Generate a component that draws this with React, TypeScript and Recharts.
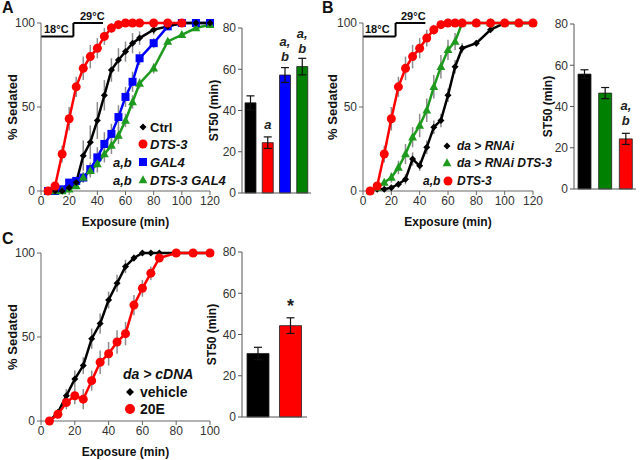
import React from "react";
import {
  Bar,
  BarChart,
  Cell,
  ErrorBar,
  LabelList,
  Line,
  LineChart,
  ReferenceLine,
  XAxis,
  YAxis,
} from "recharts";

const FONT = "'Liberation Sans', Arial, Helvetica, sans-serif";
const RED = "#ff0000";
const BLUE = "#0000ff";
const GREEN_LINE = "#1e9a1e";
const GREEN_BAR = "#008000";
const BLACK = "#000000";
const ERR_GREY = "#8c8c8c";

// ---- panel A: sedation curves ----
const timesA = [5, 10, 15, 20, 25, 30, 35, 40, 45, 50, 55, 60, 65, 70, 80, 90, 100, 110, 120];
const ctrlA = [0, 0, 0, 2, 5, 21, 29, 42, 57, 72, 78, 83, 88, 91, 96, 98, 100, 100, 100];
const ctrlErrA = [0, 0, 0, 1, 3, 9, 10, 11, 9, 7, 7, 6, 6, 4, 3, 2, 0, 0, 0];
const dts3A = [0, 3, 22, 43, 62, 73, 80, 85, 92, 97, 99, 100, 100, 100, 100, 100, 100];
const dts3ErrA = [0, 2, 5, 7, 6, 7, 7, 6, 5, 3, 1, 0, 0, 0, 0, 0, 0];
const gal4A = [0, 0, 1, 5, 6, 8, 13, 20, 28, 34, 44, 56, 65, 79, 88, 98, 100, 100, 100];
const gal4ErrA = [0, 0, 1, 2, 2, 3, 4, 6, 7, 6, 7, 6, 6, 4, 3, 1, 0, 0, 0];
const dtsGal4A = [0, 0, 0, 1, 3, 8, 12, 16, 22, 27, 33, 42, 53, 64, 73, 89, 93, 97, 99];
const dtsGal4ErrA = [0, 0, 0, 1, 2, 3, 4, 5, 5, 5, 5, 4, 4, 3, 3, 2, 2, 1, 0];

// ---- panel A: ST50 bars ----
const barNamesA = ["Ctrl", "DTS-3", "GAL4", "DTS-3 GAL4"];
const st50A = [43.7, 24.4, 57.2, 61.3];
const st50ErrA = [3.4, 2.8, 3.6, 4.0];
const notesA = ["", "a", "a,|b", "a,|b"];

// ---- panel B: sedation curves ----
const timesB = [5, 10, 15, 20, 25, 30, 35, 40, 45, 50, 55, 60, 65, 70, 80, 90, 100, 110, 120];
const rnaiB = [0, 1, 1, 2, 4, 7, 19, 15, 26, 38, 42, 57, 74, 85, 88, 96, 100, 100, 100];
const rnaiErrB = [0, 0, 0, 1, 2, 3, 4, 3, 4, 4, 4, 4, 4, 3, 2, 1, 0, 0, 0];
const rnaiDtsB = [0, 2, 5, 8, 14, 22, 32, 39, 48, 62, 74, 84, 89, 100, 100, 100, 100, 100, 100];
const rnaiDtsErrB = [0, 1, 2, 3, 4, 6, 6, 7, 7, 7, 7, 6, 5, 0, 0, 0, 0, 0, 0];
const dts3B = [0, 3, 22, 43, 62, 73, 80, 85, 91, 96, 99, 100, 100, 100, 100, 100, 100, 100, 100];
const dts3ErrB = [0, 2, 5, 7, 6, 7, 7, 6, 5, 3, 1, 0, 0, 0, 0, 0, 0, 0, 0];

// ---- panel B: ST50 bars ----
const barNamesB = ["da > RNAi", "da > RNAi DTS-3", "DTS-3"];
const st50B = [55.7, 46.5, 24.3];
const st50ErrB = [2.1, 2.7, 2.7];
const notesB = ["", "", "a,|b"];

// ---- panel C: sedation curves ----
const timesC = [5, 10, 15, 20, 25, 30, 35, 40, 45, 50, 55, 60, 65, 70, 80, 90, 100];
const vehicleC = [0, 5, 15, 25, 33, 49, 58, 72, 82, 92, 97, 100, 100, 100, 100, 100, 100];
const vehicleErrC = [0, 2, 4, 5, 5, 6, 6, 5, 5, 4, 2, 0, 0, 0, 0, 0, 0];
const e20C = [0, 4, 11, 15, 13, 24, 35, 40, 47, 52, 69, 79, 88, 97, 100, 100, 100];
const e20ErrC = [0, 2, 4, 5, 6, 6, 7, 7, 7, 7, 6, 5, 4, 2, 0, 0, 0];

// ---- panel C: ST50 bars ----
const barNamesC = ["vehicle", "20E"];
const st50C = [30.8, 44.3];
const st50ErrC = [3.0, 3.8];
const notesC = ["", "*"];

type Shape = "circle" | "square" | "triangle" | "diamond";

const drawShape = (shape: Shape, cx: number, cy: number, s: number, color: string, key?: any) => {
  if (shape === "circle") return <circle key={key} cx={cx} cy={cy} r={s} fill={color} />;
  if (shape === "square")
    return <rect key={key} x={cx - s} y={cy - s} width={s * 2} height={s * 2} fill={color} />;
  if (shape === "triangle")
    return (
      <polygon
        key={key}
        points={`${cx},${cy - s * 1.2} ${cx - s * 1.1},${cy + s * 0.8} ${cx + s * 1.1},${cy + s * 0.8}`}
        fill={color}
      />
    );
  return (
    <polygon
      key={key}
      points={`${cx},${cy - s} ${cx + s},${cy} ${cx},${cy + s} ${cx - s},${cy}`}
      fill={color}
    />
  );
};

const dotFor = (shape: Shape, color: string, size: number) => (props: any) => {
  const { cx, cy, index } = props;
  if (cx == null || cy == null) return <g key={index} />;
  return drawShape(shape, cx, cy, size, color, index);
};

const toRows = (times: number[], values: number[], errs: number[]) =>
  values.map((v, i) => ({ t: times[i], v, e: errs[i] }));

interface SeriesDef {
  name: string;
  times: number[];
  values: number[];
  errs: number[];
  color: string;
  shape: Shape;
  size: number;
}

const tickStyle = { fontSize: 12, fill: "#333", fontFamily: FONT };
const axisTitle = { fontSize: 12, fontWeight: 700, fill: "#111", fontFamily: FONT };

function CurveChart({
  series,
  maxX,
  width,
  height,
  top,
  right,
  yAxisWidth,
  xAxisHeight,
  showTemp,
}: {
  series: SeriesDef[];
  maxX: number;
  width: number;
  height: number;
  top: number;
  right: number;
  yAxisWidth: number;
  xAxisHeight: number;
  showTemp?: boolean;
}) {
  const xTicks = [];
  for (let v = 0; v <= maxX; v += 20) xTicks.push(v);
  return (
    <LineChart width={width} height={height} margin={{ top, right, left: 0, bottom: 0 }}>
      <XAxis
        dataKey="t"
        type="number"
        domain={[0, maxX]}
        ticks={xTicks}
        tick={tickStyle}
        tickSize={4}
        tickMargin={1}
        stroke="#666"
        height={xAxisHeight}
        allowDuplicatedCategory={false}
        label={{ value: "Exposure (min)", position: "insideBottom", offset: 4, style: axisTitle }}
      />
      <YAxis
        type="number"
        domain={[0, 100]}
        ticks={[0, 50, 100]}
        tick={tickStyle}
        tickSize={4}
        tickMargin={2}
        stroke="#666"
        width={yAxisWidth}
        label={{
          value: "% Sedated",
          angle: -90,
          position: "insideLeft",
          offset: 12,
          style: { ...axisTitle, fontSize: 13, textAnchor: "middle" },
        }}
      />
      {showTemp && (
        <>
          <ReferenceLine segment={[{ x: 0, y: 92 }, { x: 23, y: 92 }]} stroke="#000" strokeWidth={2} ifOverflow="visible" />
          <ReferenceLine segment={[{ x: 23, y: 92 }, { x: 23, y: 100 }]} stroke="#000" strokeWidth={2} ifOverflow="visible" />
          <ReferenceLine segment={[{ x: 23, y: 100 }, { x: 44, y: 100 }]} stroke="#000" strokeWidth={2} ifOverflow="visible" />
        </>
      )}
      {series.map((s) => (
        <Line
          key={s.name}
          data={toRows(s.times, s.values, s.errs)}
          dataKey="v"
          name={s.name}
          stroke={s.color}
          strokeWidth={2.5}
          dot={dotFor(s.shape, s.color, s.size)}
          activeDot={false}
          isAnimationActive={false}
        >
          <ErrorBar dataKey="e" width={0} stroke={ERR_GREY} strokeWidth={1.5} direction="y" />
        </Line>
      ))}
    </LineChart>
  );
}

const noteRenderer = (props: any) => {
  const { x, y, width, value } = props;
  if (!value) return null;
  const lines = String(value).split("|");
  const cx = Number(x) + Number(width) / 2;
  return (
    <g>
      {lines.map((ln, i) => (
        <text
          key={i}
          x={cx}
          y={Number(y) - 14 - (lines.length - 1 - i) * 15}
          textAnchor="middle"
          fontFamily={FONT}
          fontSize={ln === "*" ? 18 : 13}
          fontWeight={700}
          fontStyle={ln === "*" ? "normal" : "italic"}
          fill="#222"
        >
          {ln}
        </text>
      ))}
    </g>
  );
};

function St50Chart({
  names,
  values,
  errs,
  notes,
  colors,
  width,
  height,
  top,
  right,
  yAxisWidth,
  barSize,
  labelOffset,
}: {
  names: string[];
  values: number[];
  errs: number[];
  notes: string[];
  colors: string[];
  width: number;
  height: number;
  top: number;
  right: number;
  yAxisWidth: number;
  barSize: number;
  labelOffset: number;
}) {
  const data = names.map((n, i) => ({ name: n, st50: values[i], err: errs[i], note: notes[i] }));
  return (
    <BarChart width={width} height={height} data={data} margin={{ top, right, left: 0, bottom: 0 }}>
      <XAxis dataKey="name" tick={false} tickLine={false} stroke="#555" height={height - 165 - top + (189 - 189)} />
      <YAxis
        domain={[0, 80]}
        ticks={[0, 20, 40, 60, 80]}
        tick={tickStyle}
        tickSize={4}
        tickMargin={2}
        stroke="#555"
        width={yAxisWidth}
        label={{
          value: "ST50 (min)",
          angle: -90,
          position: "insideLeft",
          offset: labelOffset,
          style: { ...axisTitle, textAnchor: "middle" },
        }}
      />
      <Bar dataKey="st50" barSize={barSize} stroke="#222" strokeWidth={0.8} isAnimationActive={false}>
        {data.map((d, i) => (
          <Cell key={d.name} fill={colors[i]} />
        ))}
        <ErrorBar dataKey="err" width={4} stroke="#111" strokeWidth={1.2} direction="y" />
        <LabelList dataKey="note" content={noteRenderer} />
      </Bar>
    </BarChart>
  );
}

const Txt = ({
  x,
  y,
  size = 13,
  italic,
  children,
}: {
  x: number;
  y: number;
  size?: number;
  italic?: boolean;
  children: React.ReactNode;
}) => (
  <div
    style={{
      position: "absolute",
      left: x,
      top: y,
      transform: "translateY(-50%)",
      fontSize: size,
      lineHeight: 1,
      fontWeight: 700,
      fontStyle: italic ? "italic" : "normal",
      whiteSpace: "nowrap",
      color: "#111",
    }}
  >
    {children}
  </div>
);

const Mark = ({ x, y, shape, color, size }: { x: number; y: number; shape: Shape; color: string; size: number }) => (
  <svg style={{ position: "absolute", left: x - 8, top: y - 8 }} width={16} height={16}>
    {drawShape(shape, 8, 8, size, color)}
  </svg>
);

const Abs = ({ left, top, children }: { left: number; top: number; children: React.ReactNode }) => (
  <div style={{ position: "absolute", left, top }}>{children}</div>
);

export default function App() {
  const seriesA: SeriesDef[] = [
    { name: "GAL4", times: timesA, values: gal4A, errs: gal4ErrA, color: BLUE, shape: "square", size: 4 },
    { name: "DTS-3 GAL4", times: timesA, values: dtsGal4A, errs: dtsGal4ErrA, color: GREEN_LINE, shape: "triangle", size: 4 },
    { name: "Ctrl", times: timesA, values: ctrlA, errs: ctrlErrA, color: BLACK, shape: "diamond", size: 3.5 },
    { name: "DTS-3", times: timesA, values: dts3A, errs: dts3ErrA, color: RED, shape: "circle", size: 4.5 },
  ];
  const seriesB: SeriesDef[] = [
    { name: "da > RNAi", times: timesB, values: rnaiB, errs: rnaiErrB, color: BLACK, shape: "diamond", size: 3.5 },
    { name: "da > RNAi DTS-3", times: timesB, values: rnaiDtsB, errs: rnaiDtsErrB, color: GREEN_LINE, shape: "triangle", size: 4 },
    { name: "DTS-3", times: timesB, values: dts3B, errs: dts3ErrB, color: RED, shape: "circle", size: 4.5 },
  ];
  const seriesC: SeriesDef[] = [
    { name: "vehicle", times: timesC, values: vehicleC, errs: vehicleErrC, color: BLACK, shape: "diamond", size: 3.5 },
    { name: "20E", times: timesC, values: e20C, errs: e20ErrC, color: RED, shape: "circle", size: 4.5 },
  ];

  return (
    <div
      style={{
        position: "absolute",
        left: 0,
        top: 0,
        width: 640,
        height: 460,
        background: "#fff",
        fontFamily: FONT,
        overflow: "hidden",
      }}
    >
      {/* panel A */}
      <Abs left={0} top={0}>
        <CurveChart series={seriesA} maxX={120} width={220} height={230} top={23} right={10} yAxisWidth={41} xAxisHeight={39} showTemp />
      </Abs>
      <Abs left={200} top={0}>
        <St50Chart
          names={barNamesA}
          values={st50A}
          errs={st50ErrA}
          notes={notesA}
          colors={[BLACK, RED, BLUE, GREEN_BAR]}
          width={115}
          height={225}
          top={28}
          right={4}
          yAxisWidth={42}
          barSize={11}
          labelOffset={14}
        />
      </Abs>
      <Txt x={2} y={8} size={16}>A</Txt>
      <Txt x={44} y={29} size={11}>18°C</Txt>
      <Txt x={80} y={16} size={11}>29°C</Txt>
      <Mark x={143} y={127} shape="diamond" color={BLACK} size={3.5} />
      <Txt x={150} y={127}>Ctrl</Txt>
      <Mark x={143} y={144} shape="circle" color={RED} size={4.5} />
      <Txt x={150} y={144} italic>DTS-3</Txt>
      <Txt x={113} y={162} italic>a,b</Txt>
      <Mark x={143} y={162} shape="square" color={BLUE} size={4} />
      <Txt x={150} y={162} italic>GAL4</Txt>
      <Txt x={113} y={180} italic>a,b</Txt>
      <Mark x={143} y={180} shape="triangle" color={GREEN_LINE} size={4} />
      <Txt x={150} y={180} italic>DTS-3 GAL4</Txt>

      {/* panel B */}
      <Abs left={320} top={0}>
        <CurveChart series={seriesB} maxX={120} width={225} height={230} top={23} right={12} yAxisWidth={43} xAxisHeight={39} showTemp />
      </Abs>
      <Abs left={530} top={0}>
        <St50Chart
          names={barNamesB}
          values={st50B}
          errs={st50ErrB}
          notes={notesB}
          colors={[BLACK, GREEN_BAR, RED]}
          width={110}
          height={225}
          top={24}
          right={4}
          yAxisWidth={44}
          barSize={13}
          labelOffset={18}
        />
      </Abs>
      <Txt x={322} y={8} size={16}>B</Txt>
      <Txt x={365} y={29} size={11}>18°C</Txt>
      <Txt x={401} y={16} size={11}>29°C</Txt>
      <Mark x={447} y={146} shape="diamond" color={BLACK} size={3.5} />
      <Txt x={457} y={146} size={12} italic>da &gt; RNAi</Txt>
      <Mark x={447} y={163} shape="triangle" color={GREEN_LINE} size={4} />
      <Txt x={457} y={163} size={12} italic>da &gt; RNAi DTS-3</Txt>
      <Txt x={423} y={181} size={12} italic>a,b</Txt>
      <Mark x={448} y={181} shape="circle" color={RED} size={4.5} />
      <Txt x={457} y={181} size={12} italic>DTS-3</Txt>

      {/* panel C */}
      <Abs left={0} top={228}>
        <CurveChart series={seriesC} maxX={100} width={220} height={232} top={25} right={10} yAxisWidth={41} xAxisHeight={39} />
      </Abs>
      <Abs left={200} top={228}>
        <St50Chart
          names={barNamesC}
          values={st50C}
          errs={st50ErrC}
          notes={notesC}
          colors={[BLACK, RED]}
          width={111}
          height={225}
          top={24}
          right={4}
          yAxisWidth={42}
          barSize={22}
          labelOffset={12}
        />
      </Abs>
      <Txt x={2} y={239} size={16}>C</Txt>
      <Txt x={123} y={374} size={14} italic>da &gt; cDNA</Txt>
      <Mark x={130} y={392} shape="diamond" color={BLACK} size={4} />
      <Txt x={140} y={392} size={14}>vehicle</Txt>
      <Mark x={130} y={409} shape="circle" color={RED} size={5} />
      <Txt x={140} y={409} size={14}>20E</Txt>
    </div>
  );
}
